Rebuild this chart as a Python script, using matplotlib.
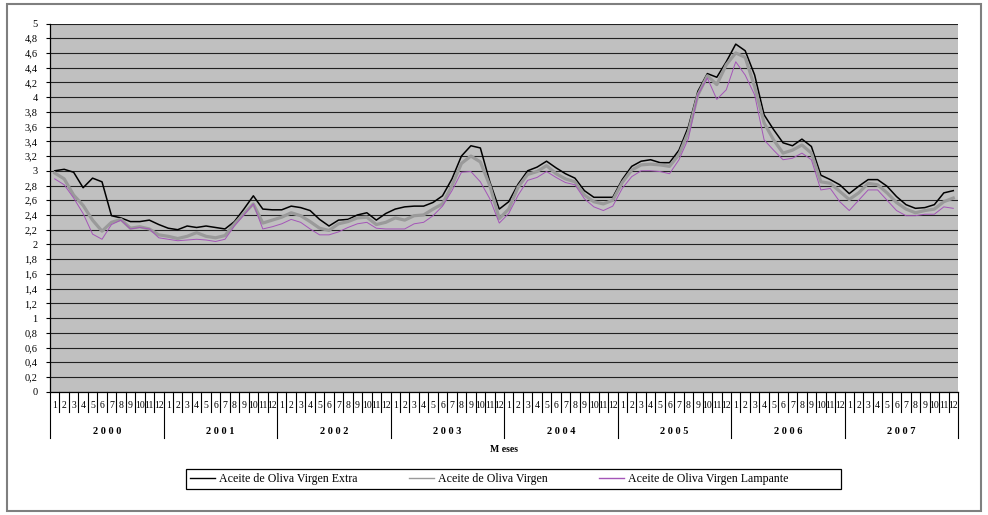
import matplotlib
matplotlib.use("Agg")
import matplotlib.pyplot as plt
from matplotlib.patches import Rectangle
import numpy as np

plt.rcParams["font.family"] = ["Liberation Serif", "DejaVu Serif"]

years = ["2000", "2001", "2002", "2003", "2004", "2005", "2006", "2007"]
months = [str(m) for m in range(1, 13)]

extra = [
    3.00, 3.02, 2.98, 2.77, 2.90, 2.85, 2.39, 2.36, 2.31, 2.31, 2.33, 2.27,
    2.22, 2.20, 2.25, 2.23, 2.25, 2.23, 2.21, 2.31, 2.48, 2.66, 2.48, 2.47,
    2.47, 2.52, 2.50, 2.46, 2.34, 2.25, 2.33, 2.34, 2.40, 2.43, 2.33, 2.42,
    2.48, 2.51, 2.52, 2.52, 2.57, 2.66, 2.89, 3.20, 3.34, 3.31, 2.85, 2.48,
    2.58, 2.82, 3.00, 3.05, 3.13, 3.04, 2.96, 2.90, 2.73, 2.64, 2.64, 2.64,
    2.88, 3.06, 3.13, 3.15, 3.11, 3.11, 3.28, 3.60, 4.08, 4.32, 4.27, 4.48,
    4.72, 4.63, 4.30, 3.76, 3.56, 3.38, 3.34, 3.43, 3.33, 2.94, 2.88, 2.81,
    2.69, 2.79, 2.88, 2.88, 2.79, 2.65, 2.54, 2.49, 2.50, 2.54, 2.70, 2.73,
]
virgen = [
    2.97, 2.89, 2.67, 2.53, 2.33, 2.18, 2.30, 2.34, 2.22, 2.24, 2.21, 2.13,
    2.11, 2.08, 2.11, 2.16, 2.11, 2.09, 2.12, 2.28, 2.42, 2.55, 2.29, 2.33,
    2.37, 2.43, 2.39, 2.31, 2.22, 2.19, 2.28, 2.31, 2.36, 2.37, 2.27, 2.30,
    2.36, 2.33, 2.39, 2.40, 2.48, 2.55, 2.80, 3.10, 3.20, 3.12, 2.80, 2.35,
    2.48, 2.78, 2.95, 2.99, 3.07, 2.96, 2.89, 2.85, 2.67, 2.58, 2.55, 2.60,
    2.84, 3.01, 3.08, 3.09, 3.08, 3.06, 3.22, 3.53, 4.03, 4.29, 4.17, 4.44,
    4.60, 4.54, 4.14, 3.65, 3.42, 3.24, 3.28, 3.35, 3.24, 2.85, 2.83, 2.72,
    2.61, 2.70, 2.83, 2.81, 2.70, 2.57, 2.48, 2.43, 2.46, 2.48, 2.58, 2.63,
]
lampante = [
    2.89, 2.81, 2.63, 2.42, 2.14, 2.07, 2.27, 2.33, 2.21, 2.23, 2.21, 2.09,
    2.07, 2.05, 2.06, 2.07, 2.06, 2.04, 2.07, 2.25, 2.40, 2.55, 2.21, 2.24,
    2.28, 2.34, 2.30, 2.21, 2.13, 2.13, 2.17, 2.23, 2.28, 2.30, 2.22, 2.21,
    2.21, 2.21, 2.28, 2.30, 2.39, 2.52, 2.73, 2.98, 2.99, 2.85, 2.62, 2.29,
    2.42, 2.67, 2.87, 2.91, 2.99, 2.91, 2.84, 2.81, 2.62, 2.51, 2.46, 2.52,
    2.76, 2.92, 3.00, 3.00, 2.99, 2.96, 3.15, 3.44, 4.03, 4.26, 3.97, 4.10,
    4.48, 4.30, 4.03, 3.42, 3.28, 3.15, 3.17, 3.24, 3.15, 2.74, 2.76, 2.58,
    2.46, 2.60, 2.74, 2.74, 2.60, 2.46, 2.39, 2.39, 2.41, 2.41, 2.51, 2.49,
]

W, H = 988, 515
fig = plt.figure(figsize=(W / 100, H / 100), dpi=100)

# plot area in pixels: x 50..958, y 23.5..391.7
ax_l, ax_r, ax_t, ax_b = 50, 958, 23.5, 391.7
ax = fig.add_axes([ax_l / W, 1 - ax_b / H, (ax_r - ax_l) / W, (ax_b - ax_t) / H])
ax.set_facecolor("#c0c0c0")


def yfrac(py):
    # pixel row -> axes fraction
    return (ax_b - py) / (ax_b - ax_t)


n = len(extra)
x = np.arange(n) + 0.5
ax.plot(x, extra, color="#000000", lw=1.1, label="Aceite de Oliva Virgen Extra", zorder=3)
ax.plot(x, virgen, color="#9a9a9a", lw=2.3, label="Aceite de Oliva Virgen", zorder=3)
ax.plot(x, lampante, color="#a455b8", lw=0.7, label="Aceite de Oliva Virgen Lampante", zorder=3)

ax.set_xlim(0, n)
ax.set_ylim(0, 5)
yt = np.round(np.arange(0, 5.01, 0.2), 1)
ax.set_yticks(yt)
ax.set_yticklabels([f"{v:g}".replace(".", ",") for v in yt], fontsize=7.5)
ax.yaxis.grid(True, color="#222222", lw=0.8)
ax.set_axisbelow(True)
ax.tick_params(axis="y", direction="out", length=3, width=0.8, pad=6)
ax.set_xticks([])
for s in ["top", "right"]:
    ax.spines[s].set_visible(False)
ax.spines["left"].set_linewidth(0.9)
ax.spines["bottom"].set_linewidth(0.9)

# two-level category axis: months and years
tr = ax.get_xaxis_transform()
for k in range(n + 1):
    low = yfrac(438) if k % 12 == 0 else yfrac(412)
    ax.plot([k, k], [0, low], color="black", lw=0.8, transform=tr, clip_on=False)
for i in range(n):
    ax.text(i + 0.5, yfrac(405), months[i % 12], transform=tr, ha="center",
            va="center", fontsize=7)
for j, yr in enumerate(years):
    ax.text(j * 12 + 6, yfrac(432), " ".join(yr), transform=tr, ha="center",
            va="center", fontsize=7.5, fontweight="bold")
ax.text(n / 2, yfrac(450), "M eses", transform=tr, ha="center", va="center",
        fontsize=7, fontweight="bold")

# legend entries packed to the left, with a separate box like Excel's
leg = fig.legend(loc="center left", bbox_to_anchor=(190 / W, 1 - 479 / H), ncol=3,
                 fontsize=8.6, frameon=False, handlelength=2.1,
                 handletextpad=0.33, columnspacing=4.3, borderpad=0,
                 borderaxespad=0)
for h in leg.get_lines():
    h.set_linewidth(1.0)
fig.patches.append(Rectangle((186 / W, 1 - 489 / H), (841 - 186) / W, 20 / H,
                             transform=fig.transFigure, facecolor="white",
                             edgecolor="black", lw=0.9, zorder=0))

# outer chart border
fig.patches.append(Rectangle((7 / W, 4 / H), (981 - 7) / W, (511 - 4) / H,
                             transform=fig.transFigure, fill=False,
                             edgecolor="#7f7f7f", lw=1.5))

fig.savefig("out.png", dpi=100)
